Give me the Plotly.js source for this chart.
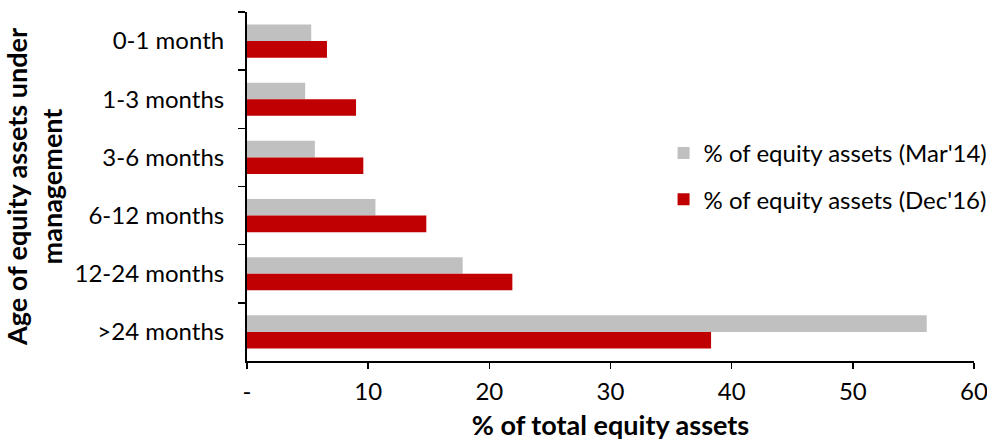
<!DOCTYPE html>
<html>
<head>
<meta charset="utf-8">
<script src="https://cdn.plot.ly/plotly-3.0.1.min.js"></script>
<style>
  html, body { margin: 0; padding: 0; background: #ffffff; }
  #chart { width: 987px; height: 441px; }
</style>
</head>
<body>
<div id="chart"></div>
<script>
// Age buckets of equity assets under management
const categories = ['0-1 month', '1-3 months', '3-6 months', '6-12 months', '12-24 months', '>24 months'];

// Share of total equity assets (%) per age bucket
const mar14 = [5.3, 4.8, 5.6, 10.6, 17.8, 56.1];
const dec16 = [6.6, 9.0, 9.6, 14.8, 21.9, 38.3];

const seriesNames = ["% of equity assets (Mar'14)", "% of equity assets (Dec'16)"];

// X axis ticks (zero shown as a dash)
const xTickVals = [0, 10, 20, 30, 40, 50, 60];
const xTickText = ['-', '10', '20', '30', '40', '50', '60'];

const FONT = 'Lato, "Open Sans", sans-serif';

const traces = [
  {
    type: 'bar', orientation: 'h',
    name: seriesNames[0], legendgroup: 'mar14',
    y: categories, x: mar14,
    marker: { color: '#c0c0c0' },
    hoverinfo: 'skip'
  },
  {
    type: 'bar', orientation: 'h',
    name: seriesNames[1], legendgroup: 'dec16',
    y: categories, x: dec16,
    marker: { color: '#c00000' },
    hoverinfo: 'skip'
  }
];

const layout = {
  width: 987, height: 441,
  margin: { l: 247, r: 13, t: 12, b: 80, autoexpand: false },
  paper_bgcolor: '#ffffff',
  plot_bgcolor: '#ffffff',
  font: { family: FONT, size: 24, color: '#000000' },
  barmode: 'group',
  bargap: 0.43,
  bargroupgap: 0,
  showlegend: true,
  legend: {
    x: 0.573, y: 0.529, xanchor: 'left', yanchor: 'middle',
    traceorder: 'grouped',
    font: { family: FONT, size: 24, color: '#000000' },
    itemwidth: 30,
    tracegroupgap: 12,
    bgcolor: 'rgba(0,0,0,0)'
  },
  xaxis: {
    automargin: false,
    range: [0, 60],
    tickvals: xTickVals, ticktext: xTickText,
    ticklabeloverflow: 'allow',
    ticks: 'outside', ticklen: 6, tickwidth: 1.5, tickcolor: '#000000',
    ticklabelstandoff: 2,
    showline: true, linecolor: '#000000', linewidth: 2,
    showgrid: false, zeroline: false,
    tickfont: { family: FONT, size: 24, color: '#000000' },
    title: {
      text: '<b>% of total equity assets</b>',
      font: { family: FONT, size: 27, color: '#000000' },
      standoff: 15
    }
  },
  yaxis: {
    automargin: false,
    type: 'category',
    autorange: 'reversed',
    tickson: 'boundaries',
    ticks: 'outside', ticklen: 7, tickwidth: 1.5, tickcolor: '#000000',
    ticklabelstandoff: 16,
    showline: true, linecolor: '#000000', linewidth: 2,
    showgrid: false, zeroline: false,
    tickfont: { family: FONT, size: 24, color: '#000000' },
    title: {
      text: '<b>Age of equity assets under<br>management</b>',
      font: { family: FONT, size: 27, color: '#000000' },
      standoff: 12
    }
  }
};

Plotly.newPlot('chart', traces, layout, { staticPlot: true, displayModeBar: false });
</script>
</body>
</html>
